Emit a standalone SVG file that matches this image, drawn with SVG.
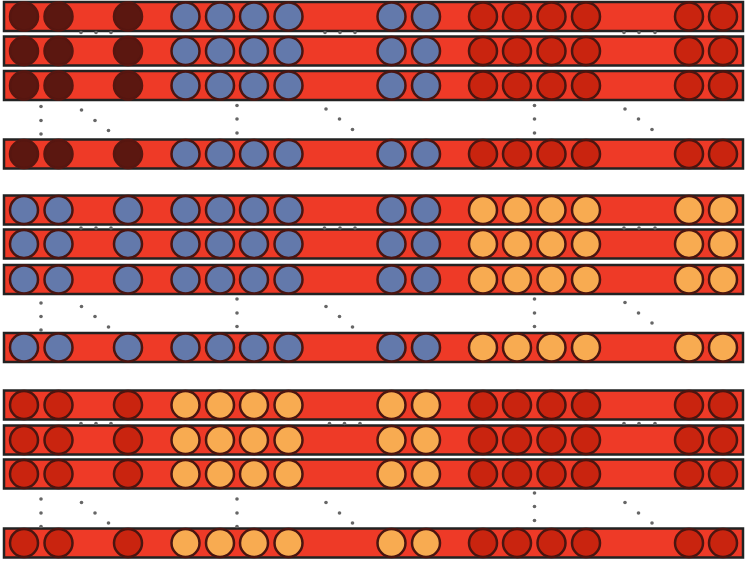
<svg xmlns="http://www.w3.org/2000/svg" xmlns:xlink="http://www.w3.org/1999/xlink" width="747" height="562" viewBox="0 0 747 562">
<style>
.bar{fill:#ee3a27;stroke:#222;stroke-width:2.5}
circle.k{stroke:#4a1510;stroke-width:2.5}
.d{fill:#5b1710;stroke:#561610!important}
.b{fill:#6379ab}
.o{fill:#f8ab51}
.r{fill:#c9240f}
.dot{fill:#666}
</style>
<defs>
<g id="row1">
<circle class="k d" cx="24" cy="0" r="14"/><circle class="k d" cx="58.5" cy="0" r="14"/><circle class="k d" cx="128" cy="0" r="14"/>
<circle class="k b" cx="185.5" cy="0" r="14"/><circle class="k b" cx="220" cy="0" r="14"/><circle class="k b" cx="254" cy="0" r="14"/><circle class="k b" cx="288.5" cy="0" r="14"/><circle class="k b" cx="391.5" cy="0" r="14"/><circle class="k b" cx="426" cy="0" r="14"/>
<circle class="k r" cx="483" cy="0" r="14"/><circle class="k r" cx="517" cy="0" r="14"/><circle class="k r" cx="551.5" cy="0" r="14"/><circle class="k r" cx="586" cy="0" r="14"/><circle class="k r" cx="689" cy="0" r="14"/><circle class="k r" cx="723" cy="0" r="14"/>
</g>
<g id="row2">
<circle class="k b" cx="24" cy="0" r="14"/><circle class="k b" cx="58.5" cy="0" r="14"/><circle class="k b" cx="128" cy="0" r="14"/>
<circle class="k b" cx="185.5" cy="0" r="14"/><circle class="k b" cx="220" cy="0" r="14"/><circle class="k b" cx="254" cy="0" r="14"/><circle class="k b" cx="288.5" cy="0" r="14"/><circle class="k b" cx="391.5" cy="0" r="14"/><circle class="k b" cx="426" cy="0" r="14"/>
<circle class="k o" cx="483" cy="0" r="14"/><circle class="k o" cx="517" cy="0" r="14"/><circle class="k o" cx="551.5" cy="0" r="14"/><circle class="k o" cx="586" cy="0" r="14"/><circle class="k o" cx="689" cy="0" r="14"/><circle class="k o" cx="723" cy="0" r="14"/>
</g>
<g id="row3">
<circle class="k r" cx="24" cy="0" r="14"/><circle class="k r" cx="58.5" cy="0" r="14"/><circle class="k r" cx="128" cy="0" r="14"/>
<circle class="k o" cx="185.5" cy="0" r="14"/><circle class="k o" cx="220" cy="0" r="14"/><circle class="k o" cx="254" cy="0" r="14"/><circle class="k o" cx="288.5" cy="0" r="14"/><circle class="k o" cx="391.5" cy="0" r="14"/><circle class="k o" cx="426" cy="0" r="14"/>
<circle class="k r" cx="483" cy="0" r="14"/><circle class="k r" cx="517" cy="0" r="14"/><circle class="k r" cx="551.5" cy="0" r="14"/><circle class="k r" cx="586" cy="0" r="14"/><circle class="k r" cx="689" cy="0" r="14"/><circle class="k r" cx="723" cy="0" r="14"/>
</g>
</defs>

<g id="g1-bar1"><rect class="bar" x="4" y="2" width="739" height="29"/><use xlink:href="#row1" href="#row1" transform="translate(0,16.5)"/></g>
<g id="g1-bar2"><rect class="bar" x="4" y="36.5" width="739" height="29"/><use xlink:href="#row1" href="#row1" transform="translate(0,51)"/></g>
<g id="g1-bar3"><rect class="bar" x="4" y="71" width="739" height="29"/><use xlink:href="#row1" href="#row1" transform="translate(0,85.5)"/></g>
<g id="g1-bar4"><rect class="bar" x="4" y="139.5" width="739" height="29"/><use xlink:href="#row1" href="#row1" transform="translate(0,154)"/></g>

<g id="g2-bar1"><rect class="bar" x="4" y="195.5" width="739" height="29"/><use xlink:href="#row2" href="#row2" transform="translate(0,210)"/></g>
<g id="g2-bar2"><rect class="bar" x="4" y="229.5" width="739" height="29"/><use xlink:href="#row2" href="#row2" transform="translate(0,244)"/></g>
<g id="g2-bar3"><rect class="bar" x="4" y="265" width="739" height="29"/><use xlink:href="#row2" href="#row2" transform="translate(0,279.5)"/></g>
<g id="g2-bar4"><rect class="bar" x="4" y="333" width="739" height="29"/><use xlink:href="#row2" href="#row2" transform="translate(0,347.5)"/></g>

<g id="g3-bar1"><rect class="bar" x="4" y="390.5" width="739" height="29"/><use xlink:href="#row3" href="#row3" transform="translate(0,405)"/></g>
<g id="g3-bar2"><rect class="bar" x="4" y="425.5" width="739" height="29"/><use xlink:href="#row3" href="#row3" transform="translate(0,440)"/></g>
<g id="g3-bar3"><rect class="bar" x="4" y="459.5" width="739" height="29"/><use xlink:href="#row3" href="#row3" transform="translate(0,474)"/></g>
<g id="g3-bar4"><rect class="bar" x="4" y="528.5" width="739" height="29"/><use xlink:href="#row3" href="#row3" transform="translate(0,543)"/></g>

<g id="ellipses">
<!-- group 1 -->
<circle class="dot" cx="81" cy="32.5" r="1.8"/><circle class="dot" cx="96" cy="32.5" r="1.8"/><circle class="dot" cx="111" cy="32.5" r="1.8"/>
<circle class="dot" cx="325" cy="32.5" r="1.8"/><circle class="dot" cx="340" cy="32.5" r="1.8"/><circle class="dot" cx="355" cy="32.5" r="1.8"/>
<circle class="dot" cx="624" cy="32.5" r="1.8"/><circle class="dot" cx="639" cy="32.5" r="1.8"/><circle class="dot" cx="655" cy="32.5" r="1.8"/>
<circle class="dot" cx="41" cy="106.5" r="1.8"/><circle class="dot" cx="41" cy="120.5" r="1.8"/><circle class="dot" cx="41" cy="134" r="1.8"/>
<circle class="dot" cx="81.5" cy="110" r="1.8"/><circle class="dot" cx="95" cy="120.5" r="1.8"/><circle class="dot" cx="108.5" cy="130.5" r="1.8"/>
<circle class="dot" cx="237" cy="105.5" r="1.8"/><circle class="dot" cx="237" cy="119" r="1.8"/><circle class="dot" cx="237" cy="133" r="1.8"/>
<circle class="dot" cx="326" cy="109" r="1.8"/><circle class="dot" cx="339.5" cy="119" r="1.8"/><circle class="dot" cx="352.5" cy="129.5" r="1.8"/>
<circle class="dot" cx="534.5" cy="105.5" r="1.8"/><circle class="dot" cx="534.5" cy="119" r="1.8"/><circle class="dot" cx="534.5" cy="133" r="1.8"/>
<circle class="dot" cx="625" cy="109" r="1.8"/><circle class="dot" cx="638.5" cy="119" r="1.8"/><circle class="dot" cx="652" cy="129.5" r="1.8"/>
<!-- group 2 -->
<circle class="dot" cx="81" cy="228" r="1.8"/><circle class="dot" cx="96" cy="228" r="1.8"/><circle class="dot" cx="111" cy="228" r="1.8"/>
<circle class="dot" cx="324.5" cy="228" r="1.8"/><circle class="dot" cx="340" cy="228" r="1.8"/><circle class="dot" cx="355" cy="228" r="1.8"/>
<circle class="dot" cx="624" cy="228" r="1.8"/><circle class="dot" cx="639" cy="228" r="1.8"/><circle class="dot" cx="655" cy="228" r="1.8"/>
<circle class="dot" cx="41" cy="303" r="1.8"/><circle class="dot" cx="41" cy="316.5" r="1.8"/><circle class="dot" cx="41" cy="330" r="1.8"/>
<circle class="dot" cx="81.5" cy="306.5" r="1.8"/><circle class="dot" cx="95" cy="316.5" r="1.8"/><circle class="dot" cx="108.5" cy="327" r="1.8"/>
<circle class="dot" cx="237" cy="299" r="1.8"/><circle class="dot" cx="237" cy="313" r="1.8"/><circle class="dot" cx="237" cy="326.5" r="1.8"/>
<circle class="dot" cx="326" cy="306.5" r="1.8"/><circle class="dot" cx="339.5" cy="316.5" r="1.8"/><circle class="dot" cx="352.5" cy="327" r="1.8"/>
<circle class="dot" cx="534.5" cy="299" r="1.8"/><circle class="dot" cx="534.5" cy="313" r="1.8"/><circle class="dot" cx="534.5" cy="326.5" r="1.8"/>
<circle class="dot" cx="625" cy="302.5" r="1.8"/><circle class="dot" cx="638.5" cy="313" r="1.8"/><circle class="dot" cx="652" cy="323" r="1.8"/>
<!-- group 3 -->
<circle class="dot" cx="81" cy="423.5" r="1.8"/><circle class="dot" cx="96" cy="423.5" r="1.8"/><circle class="dot" cx="111" cy="423.5" r="1.8"/>
<circle class="dot" cx="329.5" cy="423.5" r="1.8"/><circle class="dot" cx="344.5" cy="423.5" r="1.8"/><circle class="dot" cx="360" cy="423.5" r="1.8"/>
<circle class="dot" cx="624" cy="423.5" r="1.8"/><circle class="dot" cx="639" cy="423.5" r="1.8"/><circle class="dot" cx="655" cy="423.5" r="1.8"/>
<circle class="dot" cx="41" cy="499" r="1.8"/><circle class="dot" cx="41" cy="513" r="1.8"/><circle class="dot" cx="41" cy="526.5" r="1.8"/>
<circle class="dot" cx="81.5" cy="502.5" r="1.8"/><circle class="dot" cx="95" cy="513" r="1.8"/><circle class="dot" cx="108.5" cy="523" r="1.8"/>
<circle class="dot" cx="237" cy="499" r="1.8"/><circle class="dot" cx="237" cy="513" r="1.8"/><circle class="dot" cx="237" cy="526.5" r="1.8"/>
<circle class="dot" cx="326" cy="502.5" r="1.8"/><circle class="dot" cx="339.5" cy="513" r="1.8"/><circle class="dot" cx="352.5" cy="523" r="1.8"/>
<circle class="dot" cx="534.5" cy="493" r="1.8"/><circle class="dot" cx="534.5" cy="506.5" r="1.8"/><circle class="dot" cx="534.5" cy="520.5" r="1.8"/>
<circle class="dot" cx="625" cy="502.5" r="1.8"/><circle class="dot" cx="638.5" cy="513" r="1.8"/><circle class="dot" cx="652" cy="523" r="1.8"/>
</g>
</svg>
